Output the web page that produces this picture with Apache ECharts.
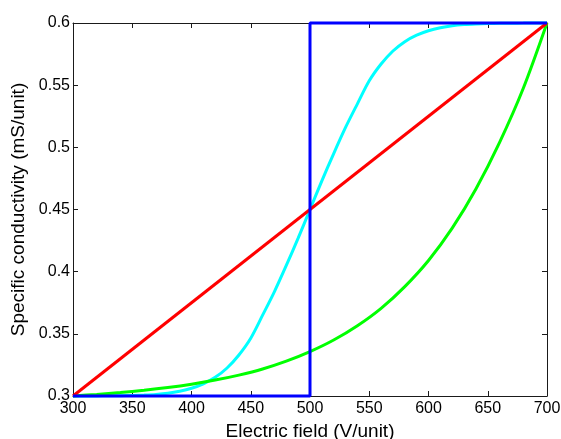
<!DOCTYPE html>
<html>
<head>
<meta charset="utf-8">
<script src="https://cdn.jsdelivr.net/npm/echarts@6/dist/echarts.min.js"></script>
<style>
html,body{margin:0;padding:0;background:#fff;overflow:hidden;}
#c{width:561px;height:439px;}
</style>
</head>
<body>
<div id="c"></div>
<script>
// Data
var xTicks = [300, 350, 400, 450, 500, 550, 600, 650, 700];
var yTicks = [0.3, 0.35, 0.4, 0.45, 0.5, 0.55, 0.6];

var cyanX = [300, 310, 320, 330, 340, 350, 360, 370, 380, 390, 400, 410, 420, 430, 440, 450, 460, 470, 480, 490, 500,
             510, 520, 530, 540, 550, 560, 570, 580, 590, 600, 610, 620, 630, 640, 650, 660, 670, 680, 690, 700];
var cyanY = [0.3000, 0.3000, 0.3001, 0.3002, 0.3003, 0.3005, 0.3008, 0.3013, 0.3022, 0.3038, 0.3062, 0.3098, 0.3150, 0.3225, 0.3330, 0.3465, 0.3650, 0.3840, 0.4050, 0.4270, 0.4500,
             0.4730, 0.4950, 0.5160, 0.5350, 0.5535, 0.5670, 0.5775, 0.5850, 0.5902, 0.5938, 0.5962, 0.5978, 0.5987, 0.5992, 0.5995, 0.5997, 0.5998, 0.5999, 0.6000, 0.6000];

var greenX = [300, 320, 340, 360, 380, 400, 420, 440, 460, 480, 500, 520, 540, 560, 580, 600, 620, 640, 660, 680, 700];
var greenY = [0.3000, 0.3013, 0.3028, 0.3046, 0.3068, 0.3095, 0.3128, 0.3168, 0.3217, 0.3280, 0.3357, 0.3450, 0.3565, 0.3705, 0.3880, 0.4090, 0.4350, 0.4665, 0.5040, 0.5475, 0.6000];

var redX = [300, 700];
var redY = [0.3, 0.6];

var blueX = [300, 500, 500, 700];
var blueY = [0.3, 0.3, 0.6, 0.6];

function pairs(xs, ys) { return xs.map(function (x, i) { return [x, ys[i]]; }); }

var FONT = '"Liberation Sans", Arial, Helvetica, sans-serif';
var axisLineStyle = { color: '#1a1a1a', width: 1 };

var chart = echarts.init(document.getElementById('c'), null, { renderer: 'canvas' });
chart.setOption({
  backgroundColor: '#ffffff',
  animation: false,
  grid: { left: 73, right: 14, top: 23, bottom: 43, containLabel: false, outerBoundsMode: 'none' },
  xAxis: [{
    type: 'value', min: xTicks[0], max: xTicks[xTicks.length - 1], interval: 50,
    position: 'bottom',
    name: 'Electric field (V/unit)', nameLocation: 'middle', nameGap: 20,
    nameTextStyle: { fontFamily: FONT, fontSize: 19, color: '#000' },
    axisLine: { show: true, lineStyle: axisLineStyle },
    axisTick: { show: true, inside: true, length: 5, lineStyle: axisLineStyle },
    axisLabel: { fontFamily: FONT, fontSize: 16, color: '#000', margin: 5 },
    splitLine: { show: false }
  }, {
    type: 'value', min: xTicks[0], max: xTicks[xTicks.length - 1], interval: 50,
    position: 'top',
    axisLine: { show: true, lineStyle: axisLineStyle },
    axisTick: { show: true, inside: true, length: 5, lineStyle: axisLineStyle },
    axisLabel: { show: false },
    splitLine: { show: false }
  }],
  yAxis: [{
    type: 'value', min: yTicks[0], max: yTicks[yTicks.length - 1], interval: 0.05,
    position: 'left',
    name: 'Specific conductivity (mS/unit)', nameLocation: 'middle', nameGap: 38, nameRotate: 90,
    nameTextStyle: { fontFamily: FONT, fontSize: 19, color: '#000' },
    axisLine: { show: true, lineStyle: axisLineStyle },
    axisTick: { show: true, inside: true, length: 5, lineStyle: axisLineStyle },
    axisLabel: {
      fontFamily: FONT, fontSize: 16, color: '#000', margin: 3,
      formatter: function (v) { return String(Math.round(v * 100) / 100); }
    },
    splitLine: { show: false }
  }, {
    type: 'value', min: yTicks[0], max: yTicks[yTicks.length - 1], interval: 0.05,
    position: 'right',
    axisLine: { show: true, lineStyle: axisLineStyle },
    axisTick: { show: true, inside: true, length: 5, lineStyle: axisLineStyle },
    axisLabel: { show: false },
    splitLine: { show: false }
  }],
  series: [
    { type: 'line', data: pairs(cyanX, cyanY), showSymbol: false, smooth: 0.3, clip: false,
      lineStyle: { color: '#00ffff', width: 3 }, z: 2 },
    { type: 'line', data: pairs(greenX, greenY), showSymbol: false, smooth: 0.3, clip: false,
      lineStyle: { color: '#00ff00', width: 3 }, z: 3 },
    { type: 'line', data: pairs(redX, redY), showSymbol: false, clip: false,
      lineStyle: { color: '#ff0000', width: 3 }, z: 4 },
    { type: 'line', data: pairs(blueX, blueY), showSymbol: false, clip: false,
      lineStyle: { color: '#0000ff', width: 3 }, z: 5 }
  ]
});
</script>
</body>
</html>
